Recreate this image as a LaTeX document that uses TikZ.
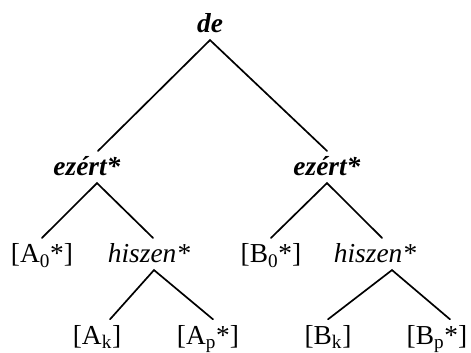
\documentclass[tikz,border=0pt]{standalone}
\usepackage{fontspec}
\setmainfont{Liberation Serif}
\usetikzlibrary{positioning}

\tikzset{
    word/.style={font=\fontsize{19.5}{23}\selectfont, inner sep=0pt,
        text height=0.62cm, text depth=0.17cm, anchor=base},
    branch/.style={line width=1.2pt, line cap=round},
}

\begin{document}
\begin{tikzpicture}
    \useasboundingbox (0,0) rectangle (11.775,8.8);
    % top
    \node[word] (de)  at (5.25,7.975) {\textbf{\textit{de}}};
    \node[word] (ezl) at (2.175,4.4) {\textbf{\textit{ezért*}}};
    \node[word] (ezr) at (8.175,4.4) {\textbf{\textit{ezért*}}};
    % middle row
    \node[word] (a0) at (1.05,2.225) {[A\textsubscript{0}*]};
    \node[word] (hl) at (3.725,2.225) {\textit{hiszen*}};
    \node[word] (b0) at (6.775,2.225) {[B\textsubscript{0}*]};
    \node[word] (hr) at (9.375,2.225) {\textit{hiszen*}};
    % bottom row
    \node[word] (ak) at (2.425,0.19) {[A\textsubscript{k}]};
    \node[word] (ap) at (5.2,0.19) {[A\textsubscript{p}*]};
    \node[word] (bk) at (8.2,0.19) {[B\textsubscript{k}]};
    \node[word] (bp) at (10.925,0.19) {[B\textsubscript{p}*]};

    \draw[branch] ([xshift=0.275cm]ezl.north) -- (de.south) -- (ezr.north);
    \draw[branch] (a0.north) -- ([xshift=0.25cm]ezl.south) -- ([xshift=0.1cm]hl.north);
    \draw[branch] (b0.north) -- (ezr.south) -- ([xshift=0.175cm]hr.north);
    \draw[branch] ([xshift=0.325cm]ak.north) -- ([xshift=0.125cm]hl.south) -- ([xshift=0.125cm]ap.north);
    \draw[branch] (bk.north) -- ([xshift=0.425cm]hr.south) -- ([xshift=0.325cm]bp.north);
\end{tikzpicture}
\end{document}
